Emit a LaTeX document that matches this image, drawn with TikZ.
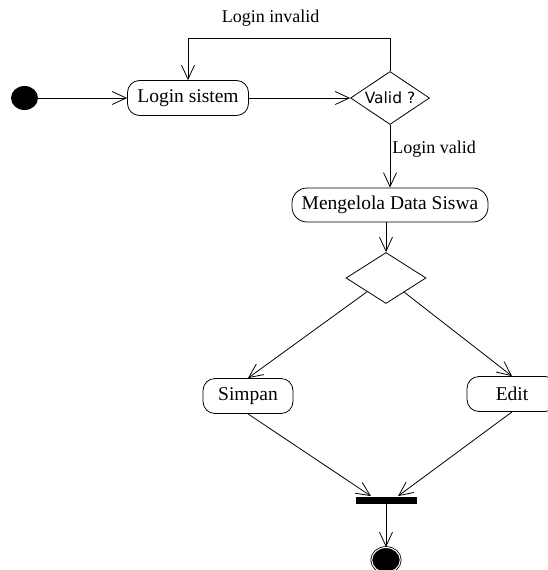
\documentclass[tikz,border=0pt]{standalone}
\usepackage{fontspec}
\setmainfont{Liberation Serif}
\newfontfamily\validfont{DejaVu Sans}
\usetikzlibrary{arrows.meta,shapes.geometric}

\begin{document}
\begin{tikzpicture}[x=1pt,y=-1pt,line width=0.8pt,
    act/.style={draw,rounded corners=12pt,inner sep=0pt,minimum height=35pt,font=\fontsize{19.5}{23}\selectfont},
    choice/.style={draw,diamond,inner sep=1pt,aspect=1.5},
    lbl/.style={inner sep=1pt,font=\fontsize{18}{21}\selectfont},
    flow/.style={-{Straight Barb[length=14pt,width=13pt]}}]
    \useasboundingbox (0,0) rectangle (547,570);
    \node[ellipse,fill=black,inner sep=0pt,minimum width=27pt,minimum height=24pt] (start) at (24.5,98) {};
    \node[act,minimum width=121pt] (login) at (188,98) {Login sistem};
    \node[choice,minimum width=79pt,minimum height=53pt,font=\validfont\fontsize{15.5}{18}\selectfont] (valid) at (390,98) {Valid ?};
    \coordinate (back) at (188,38);
    \node[lbl] (notok) at (270.5,18) {Login invalid};
    \node[lbl,anchor=west] (okay) at (391,149) {Login valid};
    \node[act,minimum width=196pt,minimum height=34pt,rounded corners=15pt] (kelola) at (390,205) {Mengelola Data Siswa};
    \node[choice,inner sep=0pt,minimum width=80pt,minimum height=51pt] (pilih) at (386,278) {};
    \node[act,minimum width=90pt] (simpan) at (248,396) {Simpan};
    \node[act,minimum width=90pt] (edit) at (512,394) {Edit};
    \node[fill=black,inner sep=0pt,minimum width=61pt,minimum height=7pt] (bar) at (386,500) {};
    \node[ellipse,draw,fill=black,double=white,double distance=1pt,inner sep=0pt,minimum width=28.5pt,minimum height=25pt] (end) at (386,560) {};
    \draw[flow] (start) -- (login);
    \draw[flow] (login) -- (valid);
    \draw[flow] (valid.north) |- (back) -- (login.north);
    \draw[flow] (valid) -- (kelola);
    \draw[flow] (kelola.south -| pilih.north) -- (pilih);
    \draw[flow] (pilih) -- (simpan.north);
    \draw[flow] (pilih) -- (edit.north);
    \draw[flow] (simpan.south) -- ([xshift=-15pt]bar.north);
    \draw[flow] (edit.south) -- ([xshift=12pt]bar.north);
    \draw[flow] (bar) -- (end);
\end{tikzpicture}
\end{document}
